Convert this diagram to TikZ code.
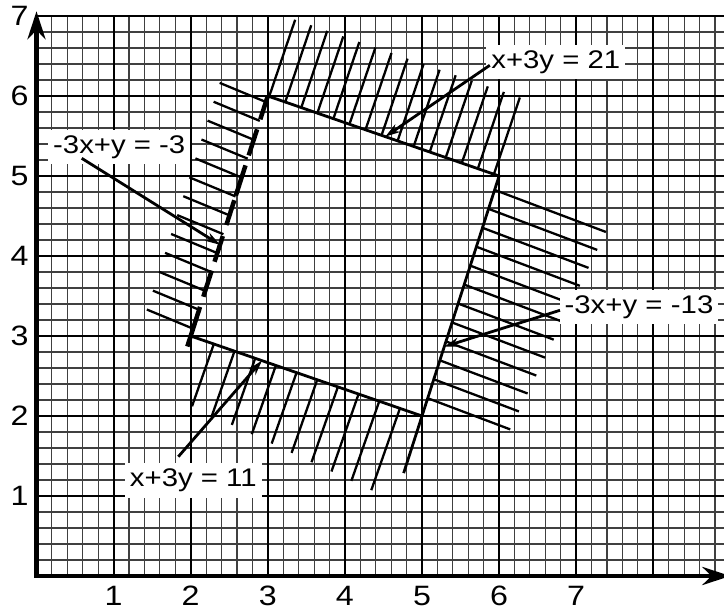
\documentclass[tikz,border=0pt]{standalone}
\usepackage{fontspec}
\newfontfamily\lblfont[FakeStretch=1.15]{Liberation Sans}
\usetikzlibrary{calc,arrows.meta}
\begin{document}
\begin{tikzpicture}[x=77.1pt,y=80pt,
  minor/.style={black!75,line width=1.1pt},
  major/.style={black,line width=2.1pt},
  axis/.style={line width=4.5pt,line join=miter},
  bound/.style={line width=2.8pt},
  hatchline/.style={line width=2.3pt},
  dashbound/.style={line width=4.5pt,dash pattern=on 24.5pt off 10.5pt on 27.4pt off 10.5pt on 31.6pt off 5pt on 26pt off 11.6pt on 27pt off 9.3pt on 27.4pt off 10.7pt on 45pt off 100pt},
  lbl/.style={fill=white,font=\lblfont\fontsize{25.5}{29}\selectfont,inner xsep=5pt,inner ysep=5pt,text height=18.5pt,text depth=6pt,anchor=base},
  num/.style={font=\lblfont\fontsize{28}{32}\selectfont,inner sep=0pt},
  ptr/.style={line width=2.8pt,-{Stealth[length=15pt,width=9pt]}}]
\useasboundingbox (-36.5pt,-35pt) rectangle (687.5pt,576pt);
% grid
\foreach \i in {1,...,44} \draw[minor] (\i/5,0) -- (\i/5,7);
\foreach \j in {1,...,34} \draw[minor] (0,\j/5) -- (8.92,\j/5);
\foreach \i in {1,...,8} \draw[major] (\i,0) -- (\i,7);
\foreach \j in {1,...,7} \draw[major] (0,\j) -- (8.92,\j);
% axes
\coordinate (O) at (0,0);
\coordinate (YT) at (0,7.06);
\coordinate (XT) at (9.0,0);
\draw[axis,{Stealth[length=28pt,width=18pt]}-{Stealth[length=28pt,width=18pt]}] (YT) -- (O) -- (XT);
\foreach \i in {1,...,7} \node[num] (xn\i) at ([yshift=-20pt]\i,0) {\i};
\foreach \j in {1,...,7} \node[num] (yn\j) at ([xshift=-17pt]0,\j) {\j};
% vertices
\coordinate (P1) at (2,3);
\coordinate (P2) at (5,2);
\coordinate (P3) at (6,5);
\coordinate (P4) at (3,6);
% hatches
\foreach \k in {0,...,12}{\pgfmathsetmacro\tp{0.025+0.0787*\k}
  \draw[hatchline] ($(P4)!\tp!(P1)$) -- ++(157.5:50pt);}
\foreach \k in {0,...,14}{\pgfmathsetmacro\tp{0.006+0.0694*\k}
  \draw[hatchline] ($(P4)!\tp!(P3)$) -- ++(71.3:81pt);}
\foreach \k in {0,...,11}{\pgfmathsetmacro\tp{0.058+0.0789*\k}\pgfmathsetlengthmacro\hl{119pt-2.8pt*\k}
  \draw[hatchline] ($(P3)!\tp!(P2)$) -- ++(-20.7:\hl);}
\foreach \k in {0,...,9}{\pgfmathsetmacro\tp{0.1+0.0894*\k}\pgfmathsetlengthmacro\hl{66pt+2.3pt*\k}
  \draw[hatchline] ($(P1)!\tp!(P2)$) -- ++(250.7:\hl);}
% boundary lines
\draw[bound] (P4) -- (P3);
\draw[bound] (P3) -- ($(P2)!-60pt!(P3)$);
\draw[bound] (P1) -- (P2);
\draw[dashbound] (P4) -- ($(P1)!-11pt!(P4)$);
% pointer tips
\coordinate (T1) at ($(P4)!0.62!(P1)$);
\coordinate (T2) at ($(P4)!0.508!(P3)$);
\coordinate (T3) at ($(P3)!0.711!(P2)$);
\coordinate (T4) at ($(P1)!0.308!(P2)$);
% labels
\node[lbl] (L1) at (82.7pt,422.7pt) {-3x+y = -3};
\node[lbl] (L2) at (519.3pt,507.7pt) {x+3y = 21};
\node[lbl] (L3) at (602.5pt,262.7pt) {-3x+y =\,\,-13};
\node[lbl] (L4) at (156.8pt,89.3pt) {x+3y = 11};
% pointers
\draw[ptr] ($(L1.base)+(-37.5pt,-5pt)$) -- (T1);
\draw[ptr] ($(L2.base)+(-66pt,3pt)$) -- (T2);
\draw[ptr] ($(L3.base)+(-79pt,3pt)$) -- (T3);
\draw[ptr] ($(L4.base)+(-15pt,30pt)$) -- (T4);
\end{tikzpicture}
\end{document}
